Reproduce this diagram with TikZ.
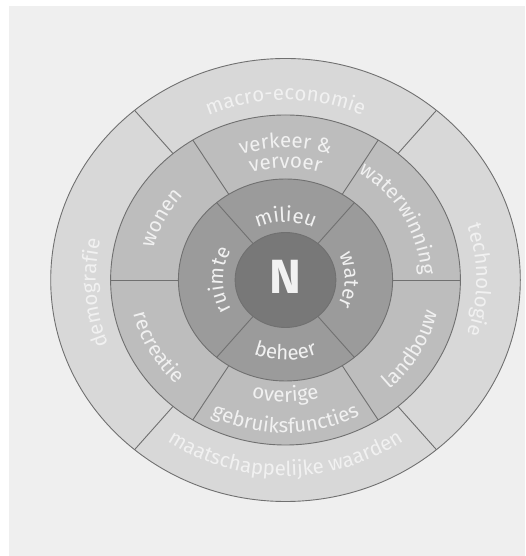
\documentclass[tikz,border=0pt]{standalone}
\usepackage{fontspec}
\setmainfont{Fira Sans}
\usetikzlibrary{decorations.text}

\definecolor{paper}{HTML}{EFEFEF}
\definecolor{outerring}{HTML}{D8D8D8}
\definecolor{midring}{HTML}{BDBDBD}
\definecolor{innerring}{HTML}{9B9B9B}
\definecolor{coregray}{HTML}{787878}
\definecolor{edgegray}{HTML}{707070}
\definecolor{labeltext}{HTML}{F1F1F1}

\tikzset{
  ringedge/.style={draw=edgegray, line width=0.9pt},
  divider/.style={draw=edgegray, line width=0.9pt},
}

\newcommand{\lblfont}{\fontsize{20.5}{20.5}\selectfont}
% text along an elliptic arc: start angle, end angle, y radius, text
\newcommand{\ringlabel}[4]{%
  \pgfmathsetmacro{\lblrx}{1.06*#3}%
  \path[decorate, decoration={text along path, text align=center,
      text color=labeltext, text={|\lblfont|#4}}]
    ({\lblrx*cos(#1)},{#3*sin(#1)})
    arc[start angle=#1, end angle=#2, x radius=\lblrx, y radius=#3];}

\begin{document}
\begin{tikzpicture}[x=1pt, y=1pt]
  \useasboundingbox (0,0) rectangle (525,556);
  \fill[white] (0,0) rectangle (525,556);
  \fill[paper] (9,0) rectangle (525,550);

  \begin{scope}[shift={(285.5,276)}]
    % outer ring
    \filldraw[ringedge, fill=outerring] (0,0) ellipse[x radius=234.8, y radius=221.5];
    \foreach \a in {50,130,230,310}
      \draw[divider] (0,0) -- ({234.8*cos(\a)},{221.5*sin(\a)});
    % uses ring
    \filldraw[ringedge, fill=midring] (0,0) ellipse[x radius=174.9, y radius=165];
    \foreach \a in {0,58,122,180,238,302}
      \draw[divider] (0,0) -- ({174.9*cos(\a)},{165*sin(\a)});
    % inner ring
    \filldraw[ringedge, fill=innerring] (0,0) ellipse[x radius=107.1, y radius=101];
    \foreach \a in {50,130,230,310}
      \draw[divider] (0,0) -- ({107.1*cos(\a)},{101*sin(\a)});
    % core
    \filldraw[ringedge, fill=coregray] (0,0) ellipse[x radius=50.4, y radius=47.5];
    \node[text=labeltext, font=\fontsize{48}{48}\selectfont\bfseries] (core) at (0,3) {N};

    % inner ring labels
    \ringlabel{135}{45}{58}{milieu}
    \ringlabel{45}{-45}{56}{water}
    \ringlabel{225}{135}{59}{ruimte}
    \ringlabel{225}{315}{80}{beheer}

    % uses ring labels
    \ringlabel{135}{45}{132}{verkeer {\&}}
    \ringlabel{135}{45}{112}{vervoer}
    \ringlabel{69.5}{-10.5}{128}{waterwinning}
    \ringlabel{182.5}{122.5}{128}{wonen}
    \ringlabel{-65}{5}{147}{landbouw}
    \ringlabel{174}{244}{147}{recreatie}
    \ringlabel{225}{315}{122}{overige}
    \ringlabel{200}{340}{153}{gebruiksfuncties}

    % outer ring labels
    \ringlabel{150}{30}{180}{macro-economie}
    \ringlabel{50}{-50}{180}{technologie}
    \ringlabel{235}{133}{179}{demografie}
    \ringlabel{200}{340}{196}{maatschappelijke waarden}
  \end{scope}
\end{tikzpicture}
\end{document}
